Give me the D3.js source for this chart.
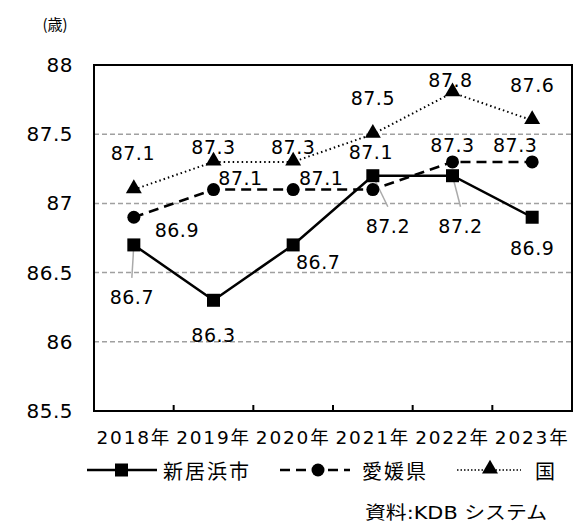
<!DOCTYPE html>
<html><head><meta charset="utf-8">
<script src="https://cdn.jsdelivr.net/npm/d3@7"></script>
<style>body{margin:0;background:#fff}svg{display:block}</style>
</head><body>
<script>
const years = ["2018年","2019年","2020年","2021年","2022年","2023年"];
const niihama = [86.7, 86.3, 86.7, 87.2, 87.2, 86.9];
const ehime   = [86.9, 87.1, 87.1, 87.1, 87.3, 87.3];
const kuni    = [87.1, 87.3, 87.3, 87.5, 87.8, 87.6];
const seriesNames = ["新居浜市","愛媛県","国"];
const yTicks = [85.5, 86, 86.5, 87, 87.5, 88];
// label offsets (px) relative to the point
const offNiihama = [[-2,52],[0,35],[25,17],[15,50],[8,50],[0,31]];
const offEhime   = [[43,13],[27,-12],[28,-12],[-2,-38],[0,-17],[-17,-17]];
const offKuni    = [[-1,-37],[0,-15],[0,-15],[0,-36],[-2,-13],[0,-35]];
const leaderNiihama = [true,false,false,true,true,false];

const W=579,H=523;
const m={l:94,r:572,t:65,b:411};
const font='"DejaVu Sans","Noto Sans CJK JP",sans-serif';
const cjk='"Noto Sans CJK JP",sans-serif';
const svg=d3.select("body").append("svg").attr("width",W).attr("height",H).style("font-family",font);

const x=d3.scaleBand().domain(years).range([m.l,m.r]).padding(0);
const y=d3.scaleLinear().domain([85.5,88]).range([m.b,m.t]);
const cx=i=>x(years[i])+x.bandwidth()/2;

// grid
svg.append("g").selectAll("line").data(yTicks.filter(t=>t>85.5&&t<88)).join("line")
  .attr("x1",m.l).attr("x2",m.r).attr("y1",d=>y(d)).attr("y2",d=>y(d))
  .attr("stroke","#a0a0a0").attr("stroke-width",1.5).attr("stroke-dasharray","5,3");

// y axis labels
const yAxis=d3.axisLeft(y).tickValues(yTicks).tickSize(0).tickPadding(21).tickFormat(d=>d3.format("")(d));
const gy=svg.append("g").attr("transform",`translate(${m.l},0)`).call(yAxis);
gy.select(".domain").remove();
gy.selectAll("text").style("font-size","20px").attr("fill","#000").style("font-family",font).attr("letter-spacing","0.5px");

// x axis
const xAxis=d3.axisBottom(x).tickSize(0).tickPadding(20);
const gx=svg.append("g").attr("transform",`translate(0,${m.b})`).call(xAxis);
gx.select(".domain").remove();
gx.selectAll("text").style("font-size","18.5px").attr("fill","#000").style("font-family",font).attr("letter-spacing","1.8px");
// inner ticks at category boundaries
svg.append("g").selectAll("line").data(years.slice(1)).join("line")
  .attr("x1",d=>x(d)).attr("x2",d=>x(d)).attr("y1",m.b).attr("y2",m.b-6)
  .attr("stroke","#000").attr("stroke-width",2);

// border
svg.append("rect").attr("x",m.l).attr("y",m.t).attr("width",m.r-m.l).attr("height",m.b-m.t)
  .attr("fill","none").attr("stroke","#000").attr("stroke-width",2);

const line=d3.line().x((d,i)=>cx(i)).y(d=>y(d));

// leaders
svg.append("g").selectAll("line").data(niihama.map((v,i)=>({v,i})).filter(d=>leaderNiihama[d.i])).join("line")
  .attr("x1",d=>cx(d.i)).attr("y1",d=>y(d.v))
  .attr("x2",d=>cx(d.i)+offNiihama[d.i][0]).attr("y2",d=>y(d.v)+offNiihama[d.i][1]-19)
  .attr("stroke","#aaa").attr("stroke-width",1.5);

// 国
svg.append("path").datum(kuni).attr("d",line).attr("fill","none").attr("stroke","#000")
  .attr("stroke-width",2).attr("stroke-dasharray","1.5,3");
// 愛媛県
svg.append("path").datum(ehime).attr("d",line).attr("fill","none").attr("stroke","#000")
  .attr("stroke-width",2.5).attr("stroke-dasharray","10,6");
// 新居浜市
svg.append("path").datum(niihama).attr("d",line).attr("fill","none").attr("stroke","#000")
  .attr("stroke-width",2.5);

const tri=d3.symbol().type(d3.symbolTriangle).size(110);
svg.append("g").selectAll("path").data(kuni).join("path")
  .attr("d",tri).attr("transform",(d,i)=>`translate(${cx(i)},${y(d)-1})`).attr("fill","#000");
svg.append("g").selectAll("circle").data(ehime).join("circle")
  .attr("cx",(d,i)=>cx(i)).attr("cy",d=>y(d)).attr("r",6.5).attr("fill","#000");
svg.append("g").selectAll("rect").data(niihama).join("rect")
  .attr("x",(d,i)=>cx(i)-6.5).attr("y",d=>y(d)-6.5).attr("width",13).attr("height",13).attr("fill","#000");

// labels
function labels(data,off){
  svg.append("g").selectAll("text").data(data).join("text")
    .attr("x",(d,i)=>cx(i)+off[i][0]).attr("y",(d,i)=>y(d)+off[i][1])
    .attr("text-anchor","middle").attr("dominant-baseline","central")
    .style("font-size","19px").attr("letter-spacing","0.5px").attr("fill","#000").text(d=>d3.format(".1f")(d));
}
labels(kuni,offKuni);
labels(ehime,offEhime);
labels(niihama,offNiihama);

// unit
svg.append("text").attr("x",55).attr("y",23).attr("text-anchor","middle").attr("dominant-baseline","central")
  .style("font-family",cjk).style("font-size","15px").text("(歳)");

// legend
const ly=470;
const lg=svg.append("g");
lg.append("line").attr("x1",87).attr("x2",157).attr("y1",ly).attr("y2",ly).attr("stroke","#000").attr("stroke-width",2.5);
lg.append("rect").attr("x",115).attr("y",ly-6.5).attr("width",13).attr("height",13);
lg.append("text").attr("x",163).attr("y",ly).attr("dominant-baseline","central").style("font-family",cjk).style("font-size","20px").attr("letter-spacing","2px").text(seriesNames[0]);
lg.append("line").attr("x1",280).attr("x2",350).attr("y1",ly).attr("y2",ly).attr("stroke","#000").attr("stroke-width",2.5).attr("stroke-dasharray","10,6");
lg.append("circle").attr("cx",318).attr("cy",ly).attr("r",6.5);
lg.append("text").attr("x",362).attr("y",ly).attr("dominant-baseline","central").style("font-family",cjk).style("font-size","20px").attr("letter-spacing","2px").text(seriesNames[1]);
lg.append("line").attr("x1",457).attr("x2",521).attr("y1",ly).attr("y2",ly).attr("stroke","#000").attr("stroke-width",1.5).attr("stroke-dasharray","1.5,2");
lg.append("path").attr("d",tri).attr("transform",`translate(490,${ly-1})`);
lg.append("text").attr("x",535).attr("y",ly).attr("dominant-baseline","central").style("font-family",cjk).style("font-size","20px").text(seriesNames[2]);

// source
svg.append("text").attr("x",365).attr("y",512).attr("dominant-baseline","central").style("font-size","18px")
  .attr("textLength",182).attr("lengthAdjust","spacingAndGlyphs").text("資料:KDB システム");
</script>
</body></html>
